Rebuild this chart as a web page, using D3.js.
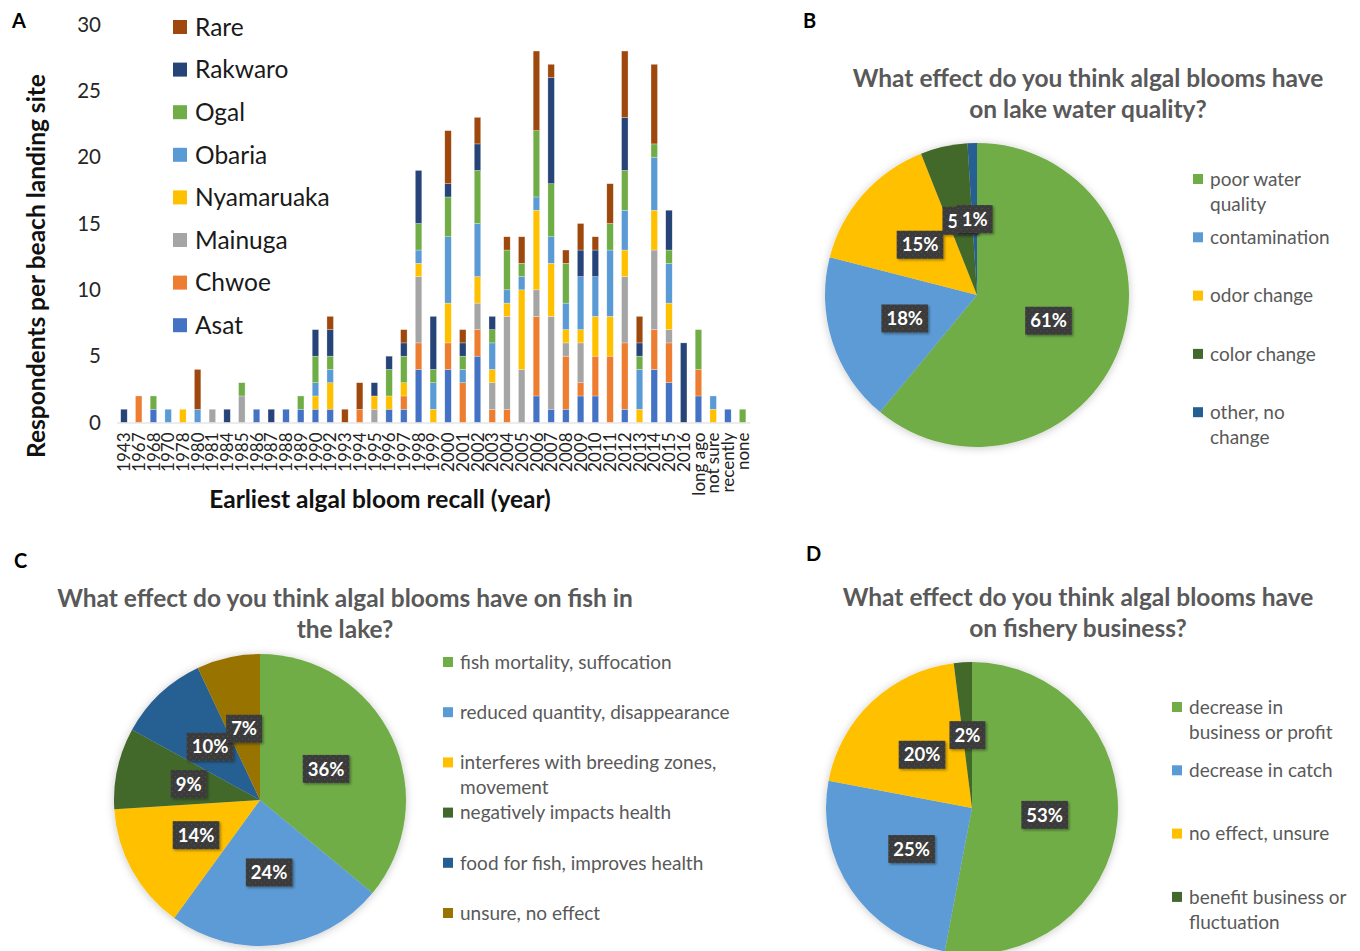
<!DOCTYPE html>
<html>
<head>
<meta charset="utf-8">
<script src="https://cdn.jsdelivr.net/npm/d3@7"></script>
<style>
  body { margin: 0; background: #fff; }
  svg { display: block; font-family: Lato, "Open Sans", "Liberation Sans", sans-serif; }
</style>
</head>
<body>
<svg id="fig" width="1360" height="951"></svg>
<script>
// ---------- Panel A: earliest algal bloom recall, stacked by landing site ----------
const years = ["1943","1967","1968","1970","1978","1980","1981","1984","1985","1986",
  "1987","1988","1989","1990","1992","1993","1994","1995","1996","1997",
  "1998","1999","2000","2001","2002","2003","2004","2005","2006","2007",
  "2008","2009","2010","2011","2012","2013","2014","2015","2016","long ago",
  "not sure","recently","none"];

const asat       = [0,0,1,0,0,0,0,0,0,1, 0,1,1,1,1,0,0,0,1,1, 4,0,4,0,5,0,0,0,2,1, 1,2,2,0,1,0,4,3,0,2, 0,1,0];
const chwoe      = [0,2,0,0,0,0,0,0,0,0, 0,0,0,0,0,0,1,0,0,1, 2,0,2,3,2,1,1,0,6,0, 4,1,3,5,5,0,3,3,0,2, 0,0,0];
const mainuga    = [0,0,0,0,0,0,1,0,2,0, 0,0,0,0,0,0,0,1,0,0, 5,0,0,0,2,2,7,4,2,7, 1,3,0,0,5,0,6,1,0,0, 0,0,0];
const nyamaruaka = [0,0,0,0,1,0,0,0,0,0, 0,0,0,1,2,0,0,1,1,1, 1,1,3,0,2,1,1,6,6,4, 1,1,3,3,2,1,3,2,0,0, 1,0,0];
const obaria     = [0,0,0,1,0,1,0,0,0,0, 0,0,0,1,1,0,0,0,0,0, 1,2,5,1,4,2,1,1,1,2, 2,4,3,5,3,3,4,3,0,0, 1,0,0];
const ogal       = [0,0,1,0,0,0,0,0,1,0, 0,0,1,2,1,0,0,0,2,2, 2,1,3,1,4,1,3,1,5,4, 3,0,0,2,3,1,1,1,0,3, 0,0,1];
const rakwaro    = [1,0,0,0,0,0,0,1,0,0, 1,0,0,2,2,0,0,1,1,1, 4,4,1,1,2,1,0,0,0,8, 0,2,2,0,4,1,0,3,6,0, 0,0,0];
const rare       = [0,0,0,0,0,3,0,0,0,0, 0,0,0,0,1,1,2,0,0,1, 0,0,4,1,2,0,1,2,6,1, 1,2,1,3,5,2,6,0,0,0, 0,0,0];

const siteNames  = ["Asat","Chwoe","Mainuga","Nyamaruaka","Obaria","Ogal","Rakwaro","Rare"];
const siteSeries = [asat, chwoe, mainuga, nyamaruaka, obaria, ogal, rakwaro, rare];
const siteColors = ["#4472C4","#ED7D31","#A5A5A5","#FFC000","#5B9BD5","#70AD47","#264478","#9E480E"];
const yTicks = [0, 5, 10, 15, 20, 25, 30];

// ---------- Panels B-D: perceived effects ----------
const waterLegend  = [["poor water","quality"],["contamination"],["odor change"],["color change"],["other, no","change"]];
const waterShares  = [61, 18, 15, 5, 1];
const waterColors  = ["#70AD47","#5B9BD5","#FFC000","#43682B","#255E91"];

const fishLegend   = [["fish mortality, suffocation"],["reduced quantity, disappearance"],
                      ["interferes with breeding zones,","movement"],["negatively impacts health"],
                      ["food for fish, improves health"],["unsure, no effect"]];
const fishShares   = [36, 24, 14, 9, 10, 7];
const fishColors   = ["#70AD47","#5B9BD5","#FFC000","#43682B","#255E91","#997300"];

const businessLegend = [["decrease in","business or profit"],["decrease in catch"],["no effect, unsure"],["benefit business or","fluctuation"]];
const businessShares = [53, 25, 20, 2];
const businessColors = ["#70AD47","#5B9BD5","#FFC000","#43682B"];

const svg = d3.select("#fig");
const defs = svg.append("defs");

defs.append("filter").attr("id", "pieShadow")
  .attr("x", "-20%").attr("y", "-20%").attr("width", "140%").attr("height", "140%")
  .append("feDropShadow").attr("dx", 0).attr("dy", 1).attr("stdDeviation", 4)
  .attr("flood-color", "#000").attr("flood-opacity", 0.22);

defs.append("filter").attr("id", "boxShadow")
  .attr("x", "-30%").attr("y", "-30%").attr("width", "160%").attr("height", "160%")
  .append("feDropShadow").attr("dx", 1.5).attr("dy", 1.5).attr("stdDeviation", 1.2)
  .attr("flood-color", "#000").attr("flood-opacity", 0.35);

const dots = defs.append("pattern").attr("id", "boxTexture")
  .attr("width", 6).attr("height", 6).attr("patternUnits", "userSpaceOnUse");
dots.append("rect").attr("width", 6).attr("height", 6).attr("fill", "#3b3b3b");
dots.append("rect").attr("x", 1).attr("y", 1).attr("width", 1).attr("height", 1).attr("fill", "#5a5a5a");
dots.append("rect").attr("x", 4).attr("y", 4).attr("width", 1).attr("height", 1).attr("fill", "#555");

// ---------- Panel A ----------
const rows = years.map((yr, i) => {
  const r = { year: yr };
  siteNames.forEach((s, k) => { r[s] = siteSeries[k][i]; });
  return r;
});
const stacked = d3.stack().keys(siteNames)(rows);

const x = d3.scaleBand().domain(years).range([116.6, 750])
  .paddingInner(0.56).paddingOuter(0.28);
const y = d3.scaleLinear().domain([0, 30]).range([422.5, 24.5]);
const color = d3.scaleOrdinal().domain(siteNames).range(siteColors);

const gA = svg.append("g");

gA.append("g").selectAll("g").data(stacked).join("g")
  .attr("fill", d => color(d.key))
  .selectAll("rect").data(d => d.filter(s => s[1] - s[0] > 0)).join("rect")
  .attr("x", d => x(d.data.year))
  .attr("width", x.bandwidth())
  .attr("y", d => y(d[1]))
  .attr("height", d => y(d[0]) - y(d[1]))
  .attr("stroke", "rgba(255,255,255,0.55)")
  .attr("stroke-width", 0.5);

const xAxis = gA.append("g").attr("transform", `translate(0,${y(0)})`)
  .call(d3.axisBottom(x).tickSize(0).tickSizeOuter(0));
xAxis.select(".domain").attr("stroke", "#d9d9d9").attr("stroke-width", 1.2);
xAxis.selectAll("text")
  .attr("font-size", 17).attr("fill", "#222")
  .attr("text-anchor", "end")
  .attr("transform", "rotate(-90)")
  .attr("x", -10).attr("y", 0).attr("dy", "0.36em")
  .style("font-family", "Lato, sans-serif");

const yAxis = gA.append("g").attr("transform", "translate(101,0)")
  .call(d3.axisLeft(y).tickValues(yTicks).tickSize(0).tickPadding(0));
yAxis.select(".domain").remove();
yAxis.selectAll("text").attr("font-size", 20.5).attr("fill", "#262626")
  .style("font-family", "Lato, sans-serif");

gA.append("text")
  .attr("transform", "translate(45,266) rotate(-90)")
  .attr("text-anchor", "middle")
  .attr("font-size", 24.5).attr("font-weight", 700).attr("fill", "#111")
  .text("Respondents per beach landing site");

gA.append("text")
  .attr("x", 380).attr("y", 508)
  .attr("text-anchor", "middle")
  .attr("font-size", 24.5).attr("font-weight", 700).attr("fill", "#111")
  .text("Earliest algal bloom recall (year)");

const legA = gA.append("g").selectAll("g").data(siteNames.slice().reverse()).join("g")
  .attr("transform", (d, i) => `translate(173,${27 + i * 42.6})`);
legA.append("rect").attr("x", 0).attr("y", -7).attr("width", 14).attr("height", 14)
  .attr("fill", d => color(d));
legA.append("text").attr("x", 22).attr("dy", "0.36em")
  .attr("font-size", 24.5).attr("fill", "#1a1a1a").text(d => d);

// ---------- Pie panels ----------
function piePanel(opts) {
  const g = svg.append("g");
  const pie = d3.pie().sort(null).value(d => d);
  const arcs = pie(opts.shares);
  const arc = d3.arc().innerRadius(0).outerRadius(opts.r);
  const labelArc = d3.arc().innerRadius(opts.r * 0.5).outerRadius(opts.r * 0.5);

  const pg = g.append("g").attr("transform", `translate(${opts.cx},${opts.cy})`);
  pg.append("g").attr("filter", "url(#pieShadow)")
    .selectAll("path").data(arcs).join("path")
    .attr("d", arc)
    .attr("fill", (d, i) => opts.colors[i])
    .attr("stroke", "none");

  const lab = pg.append("g").selectAll("g").data(arcs).join("g")
    .attr("transform", d => `translate(${labelArc.centroid(d)})`);
  const txt = lab.append("text")
    .attr("text-anchor", "middle").attr("dy", "0.36em")
    .attr("font-size", 18.5).attr("font-weight", 700).attr("fill", "#fff")
    .text(d => d.data + "%");
  txt.each(function () {
    const b = this.getBBox();
    d3.select(this.parentNode).insert("rect", "text")
      .attr("x", b.x - 5).attr("y", -14)
      .attr("width", b.width + 10).attr("height", 28)
      .attr("fill", "url(#boxTexture)")
      .attr("filter", "url(#boxShadow)");
  });

  // title
  const t = g.append("text").attr("text-anchor", "middle")
    .attr("font-size", 24.5).attr("font-weight", 700).attr("fill", "#595959");
  opts.title.forEach((line, i) => {
    t.append("tspan").attr("x", opts.titleX).attr("y", opts.titleY + i * 31).text(line);
  });

  // legend
  const leg = g.append("g").selectAll("g").data(opts.legend).join("g")
    .attr("transform", (d, i) => `translate(${opts.legX},${opts.legY + i * opts.legStep})`);
  leg.append("rect").attr("x", 0).attr("y", -5).attr("width", 10).attr("height", 10)
    .attr("fill", (d, i) => opts.colors[i]);
  const lt = leg.append("text").attr("font-size", 19).attr("fill", "#595959");
  lt.selectAll("tspan").data(d => d).join("tspan")
    .attr("x", 17).attr("y", (d, j) => j * 25).attr("dy", "0.36em")
    .text(d => d);
  return g;
}

piePanel({
  cx: 977, cy: 295, r: 152,
  shares: waterShares, colors: waterColors, legend: waterLegend,
  title: ["What effect do you think algal blooms have", "on lake water quality?"],
  titleX: 1088, titleY: 87,
  legX: 1193, legY: 179, legStep: 58.3
});

piePanel({
  cx: 260, cy: 800, r: 146,
  shares: fishShares, colors: fishColors, legend: fishLegend,
  title: ["What effect do you think algal blooms have on fish in", "the lake?"],
  titleX: 345, titleY: 607,
  legX: 443, legY: 662, legStep: 50.2
});

piePanel({
  cx: 972, cy: 808, r: 146,
  shares: businessShares, colors: businessColors, legend: businessLegend,
  title: ["What effect do you think algal blooms have", "on fishery business?"],
  titleX: 1078, titleY: 606,
  legX: 1172, legY: 707, legStep: 63.3
});

// ---------- Panel letters ----------
const letters = [["A", 12, 28], ["B", 803, 28], ["C", 14, 568], ["D", 806, 561]];
svg.append("g").selectAll("text").data(letters).join("text")
  .attr("x", d => d[1]).attr("y", d => d[2])
  .attr("font-size", 20).attr("font-weight", 700).attr("fill", "#000")
  .text(d => d[0]);
</script>
</body>
</html>
